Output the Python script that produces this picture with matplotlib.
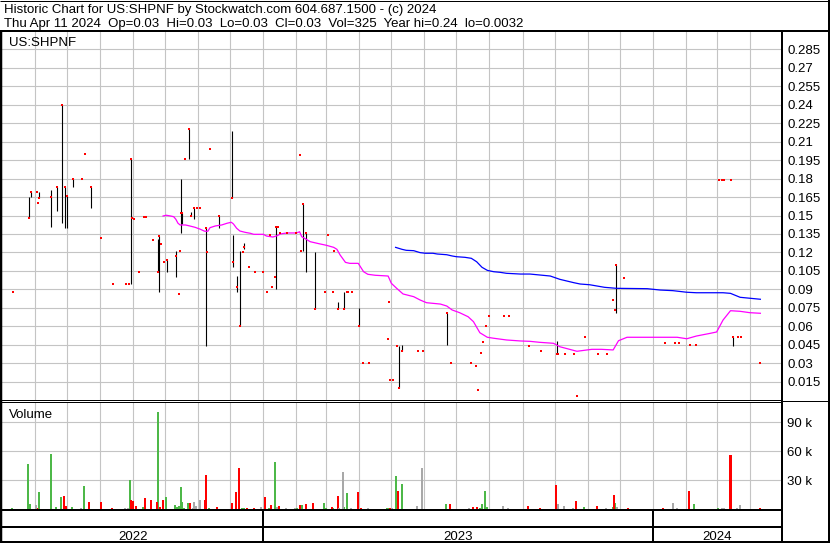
import numpy as np
import matplotlib
matplotlib.use("Agg")
import matplotlib.pyplot as plt
from matplotlib.lines import Line2D

plt.rcParams['font.family'] = ['Liberation Sans', 'DejaVu Sans']

# x values are days counted from this date
START = np.datetime64('2022-05-01')
END = np.datetime64('2024-05-01')

# days with a high/low range: day, high, low, close
bar_day = [25, 27, 35, 46, 52, 56, 59, 61, 67, 83, 121, 146, 147, 155, 163, 168, 169, 175, 177, 180,
           191, 203, 216, 217, 220, 223, 227, 257, 282, 285, 293, 315, 321, 335, 372, 375, 417, 520, 576, 685]
bar_high = [0.165, 0.169, 0.169, 0.171, 0.173, 0.240, 0.173, 0.166, 0.180, 0.173, 0.196, 0.131, 0.133, 0.114,
            0.121, 0.180, 0.152, 0.220, 0.153, 0.156, 0.141, 0.150, 0.219, 0.134, 0.101, 0.121, 0.128, 0.141,
            0.159, 0.136, 0.120, 0.080, 0.088, 0.075, 0.044, 0.045, 0.0705, 0.048, 0.110, 0.0515]
bar_low = [0.148, 0.165, 0.164, 0.141, 0.154, 0.144, 0.140, 0.140, 0.173, 0.156, 0.094, 0.104, 0.088, 0.104,
           0.100, 0.136, 0.143, 0.196, 0.150, 0.147, 0.044, 0.140, 0.164, 0.108, 0.088, 0.060, 0.123, 0.090,
           0.121, 0.104, 0.074, 0.074, 0.074, 0.060, 0.010, 0.040, 0.045, 0.037, 0.0705, 0.044]
bar_close = [0.148, 0.169, 0.164, 0.165, 0.173, 0.240, 0.173, 0.166, 0.180, 0.173, 0.196, 0.104, 0.133, 0.114,
             0.117, 0.152, 0.152, 0.220, 0.150, 0.156, 0.140, 0.150, 0.164, 0.112, 0.092, 0.060, 0.124, 0.141,
             0.159, 0.136, 0.074, 0.074, 0.074, 0.060, 0.010, 0.040, 0.0705, 0.037, 0.110, 0.0515]

# days traded at a single price
flat_day = [10, 33, 34, 75, 78, 93, 104, 116, 119, 122, 124, 128, 133, 135, 142, 149, 152, 166, 167, 172,
            183, 186, 192, 195, 226, 232, 237, 245, 248, 251, 253, 256, 259, 261, 267, 276, 279, 280, 303, 306,
            310, 311, 323, 324, 328, 338, 344, 362, 363, 364, 367, 370, 390, 395, 421, 440, 444, 446, 449, 451,
            454, 457, 471, 475, 494, 505, 521, 528, 536, 539, 547, 559, 567, 573, 575, 583, 622, 631, 635, 645,
            651, 672, 675, 677, 683, 690, 693, 711]
flat_close = [0.088, 0.169, 0.160, 0.180, 0.200, 0.132, 0.094, 0.094, 0.094, 0.148, 0.147, 0.104, 0.149, 0.149,
              0.130, 0.127, 0.112, 0.086, 0.121, 0.196, 0.156, 0.156, 0.120, 0.204, 0.120, 0.108, 0.104, 0.104,
              0.088, 0.134, 0.092, 0.100, 0.141, 0.136, 0.136, 0.136, 0.199, 0.121, 0.088, 0.134, 0.088, 0.121,
              0.088, 0.088, 0.088, 0.030, 0.030, 0.050, 0.080, 0.016, 0.016, 0.044, 0.040, 0.040, 0.030, 0.030,
              0.028, 0.008, 0.038, 0.047, 0.060, 0.068, 0.068, 0.068, 0.044, 0.040, 0.037, 0.037, 0.037, 0.003,
              0.051, 0.037, 0.037, 0.081, 0.073, 0.0995, 0.046, 0.046, 0.046, 0.045, 0.045, 0.179, 0.179, 0.179,
              0.179, 0.0515, 0.0515, 0.030]

# short moving average (magenta)
ma_short_day = [151, 154, 158, 161, 163, 165, 167, 172, 176, 181, 186, 190, 193, 195, 200, 206, 211, 215, 217,
                220, 223, 228, 233, 236, 245, 248, 254, 258, 261, 267, 276, 279, 281, 289, 297, 304, 311, 314,
                317, 322, 326, 334, 339, 343, 350, 362, 365, 370, 376, 386, 392, 398, 411, 417, 422, 429, 437,
                442, 448, 455, 461, 473, 486, 495, 504, 517, 523, 530, 539, 553, 562, 573, 578, 586, 598, 633,
                642, 651, 664, 670, 676, 683, 692, 701, 711]
ma_short = [0.1496, 0.1502, 0.1496, 0.1490, 0.1469, 0.1437, 0.1423, 0.1423, 0.1415, 0.1404, 0.1388, 0.1372,
            0.1372, 0.1401, 0.1415, 0.1423, 0.1437, 0.1445, 0.1431, 0.1396, 0.1374, 0.1363, 0.1355, 0.1347,
            0.1347, 0.1333, 0.1325, 0.1336, 0.1350, 0.1358, 0.1358, 0.1368, 0.1328, 0.1287, 0.1271, 0.1258,
            0.1241, 0.1225, 0.1179, 0.1119, 0.1111, 0.1111, 0.1043, 0.1022, 0.1014, 0.1008, 0.0949, 0.0908,
            0.0862, 0.0840, 0.0813, 0.0791, 0.0780, 0.0764, 0.0732, 0.0710, 0.0677, 0.0637, 0.0547, 0.0510,
            0.0502, 0.0488, 0.0480, 0.0477, 0.0469, 0.0461, 0.0433, 0.0417, 0.0396, 0.0412, 0.0412, 0.0407,
            0.0482, 0.0510, 0.0510, 0.0510, 0.0498, 0.0520, 0.0542, 0.0553, 0.0650, 0.0726, 0.0721, 0.0710,
            0.0705]

# long moving average (blue)
ma_long_day = [369, 375, 379, 386, 392, 397, 404, 408, 417, 422, 426, 434, 440, 445, 450, 455, 461, 467, 473,
               486, 495, 514, 523, 536, 542, 551, 565, 576, 605, 617, 629, 642, 651, 676, 683, 692, 711]
ma_long = [0.1241, 0.1225, 0.1217, 0.1214, 0.1198, 0.1193, 0.1193, 0.1187, 0.1181, 0.1171, 0.1165, 0.1160,
           0.1152, 0.1124, 0.1079, 0.1054, 0.1043, 0.1038, 0.1030, 0.1024, 0.1024, 0.1008, 0.0981, 0.0954,
           0.0943, 0.0937, 0.0916, 0.0908, 0.0905, 0.0894, 0.0889, 0.0876, 0.0872, 0.0872, 0.0867, 0.0835,
           0.0819]

# volume in thousands, split by up / down / unchanged days
up_day = [9, 24, 26, 35, 46, 51, 55, 66, 77, 120, 132, 146, 154, 162, 164, 166, 168, 169, 171, 174, 194, 225,
          227, 250, 256, 277, 281, 302, 304, 310, 321, 323, 361, 363, 369, 375, 416, 448, 450, 453, 455, 546,
          573, 575, 649, 671]
up_vol = [1.3, 46.9, 5.5, 17.9, 57.2, 2.4, 12.7, 2.4, 24.1, 30.3, 2.4, 100.6, 12.7, 4.4, 2.4, 3.4, 23.1, 7.6,
          1.3, 6.5, 1.3, 1.3, 1.3, 1.3, 48.9, 1.3, 4.4, 6.5, 1.3, 1.3, 2.4, 16.9, 1.3, 1.3, 34.5, 26.1, 5.5,
          1.3, 5.5, 18.9, 2.4, 2.4, 2.4, 6.5, 5.5, 1.3]
down_day = [33, 58, 60, 82, 93, 103, 121, 123, 126, 134, 140, 145, 148, 151, 176, 190, 191, 202, 216, 219, 222,
            230, 236, 247, 252, 260, 279, 285, 292, 309, 315, 334, 337, 364, 371, 420, 442, 445, 493, 504, 519,
            538, 558, 574, 587, 620, 644, 683, 711]
down_vol = [1.3, 13.8, 3.4, 7.6, 7.6, 1.3, 9.6, 8.6, 3.4, 11.7, 9.6, 7.6, 2.4, 9.6, 6.5, 9.6, 35.5, 2.4, 6.5,
            17.9, 42.8, 1.3, 1.3, 12.7, 4.4, 3.4, 4.4, 5.5, 6.5, 2.4, 13.8, 17.9, 1.3, 1.3, 18.9, 5.5, 2.4, 2.4,
            3.4, 1.3, 25.1, 8.6, 3.4, 14.8, 1.3, 1.3, 18.9, 56.2, 1.3]
flat_vday = [32, 74, 115, 118, 179, 180, 182, 186, 243, 258, 266, 275, 316, 320, 327, 343, 366, 389, 394, 438,
             470, 474, 521, 527, 535, 566, 577, 629, 633, 675, 677, 689, 692]
flat_vol = [4.4, 1.3, 1.3, 1.3, 1.3, 7.6, 3.4, 9.6, 2.4, 2.4, 1.3, 1.3, 1.3, 38.6, 1.3, 1.3, 1.3, 3.4, 42.8,
            1.3, 3.4, 1.3, 5.5, 3.4, 1.3, 1.3, 2.4, 6.5, 1.3, 1.3, 1.3, 1.3, 4.4]

price_ticks = [0.015, 0.03, 0.045, 0.06, 0.075, 0.09, 0.105, 0.12, 0.135, 0.15, 0.165, 0.18, 0.195, 0.21,
               0.225, 0.24, 0.255, 0.27, 0.285]
vol_ticks = [30, 60, 90]
years = ['2022', '2023', '2024']

title1 = "Historic Chart for US:SHPNF by Stockwatch.com 604.687.1500 - (c) 2024"
title2 = "Thu Apr 11 2024  Op=0.03  Hi=0.03  Lo=0.03  Cl=0.03  Vol=325  Year hi=0.24  lo=0.0032"

W, H = 830, 543
GRID = '#c4c4c4'
FS = 9.5


def fx(x):
    return x / W


def fy(y):
    return 1 - y / H


def line(fig, xs, ys, px=1.0):
    fig.add_artist(Line2D([fx(v) for v in xs], [fy(v) for v in ys], transform=fig.transFigure,
                          color='black', lw=px * 0.72, solid_capstyle='butt'))


fig = plt.figure(figsize=(8.3, 5.43), dpi=100)
fig.patch.set_facecolor('white')

months = np.arange(np.datetime64('2022-06'), np.datetime64('2024-05'), dtype='datetime64[M]')
month_days = (months.astype('datetime64[D]') - START).astype(int)
x_max = int((END - START).astype(int))
year_starts = [(np.datetime64(y + '-01-01') - START).astype(int) for y in ['2023', '2024']]

L, R = 2, 781.7

# price panel
ax = fig.add_axes([fx(L), fy(400), fx(R) - fx(L), (400 - 31) / H])
ax.set_xlim(0, x_max)
ax.set_ylim(0, 0.3)
ax.set_xticks(month_days)
ax.set_xticklabels([])
ax.set_yticks(price_ticks)
ax.set_yticklabels([f"{t:g}" for t in price_ticks])
ax.yaxis.tick_right()
ax.tick_params(length=0, labelsize=FS, pad=4)
ax.grid(color=GRID, lw=0.8)
ax.set_axisbelow(True)
for s in ax.spines.values():
    s.set_visible(False)

ax.vlines(bar_day, bar_low, bar_high, color='black', lw=0.8)
ax.plot(ma_short_day, ma_short, color='#ff00ff', lw=0.9)
ax.plot(ma_long_day, ma_long, color='#0000ff', lw=0.9)
ax.plot(flat_day, flat_close, 's', color='#ff0000', ms=2.0, mew=0)
ax.plot(bar_day, bar_close, 's', color='#ff0000', ms=2.0, mew=0)
fig.text(fx(9.3), fy(46), 'US:SHPNF', fontsize=FS, va='baseline', ha='left')

# volume panel
vtop, vbot = 402, 509.3
vx = fig.add_axes([fx(L), fy(vbot), fx(R) - fx(L), (vbot - vtop) / H])
vx.set_xlim(0, x_max)
vx.set_ylim(0, (vbot - vtop) / 0.9667)
vx.set_xticks(month_days)
vx.set_xticklabels([])
vx.set_yticks(vol_ticks)
vx.set_yticklabels([f"{v} k" for v in vol_ticks])
vx.yaxis.tick_right()
vx.tick_params(length=0, labelsize=FS, pad=4)
vx.grid(color=GRID, lw=0.8)
vx.set_axisbelow(True)
for s in vx.spines.values():
    s.set_visible(False)
vx.bar(up_day, up_vol, width=1.9, color='#4db848', lw=0)
vx.bar(down_day, down_vol, width=1.9, color='#ff0000', lw=0)
vx.bar(flat_vday, flat_vol, width=1.9, color='#a8a8a8', lw=0)
fig.text(fx(9.3), fy(418), 'Volume', fontsize=FS, va='baseline', ha='left')

# header
fig.text(fx(4), fy(13), title1, fontsize=FS, va='baseline', ha='left')
fig.text(fx(4), fy(27), title2, fontsize=FS, va='baseline', ha='left')

# frame lines
line(fig, [0, W], [0.5, 0.5], 1)
line(fig, [0, W], [542, 542], 2)
line(fig, [1, 1], [31, H], 2.5)
line(fig, [829, 829], [0, H], 2)
line(fig, [0, W], [31, 31], 2)
line(fig, [R, R], [31, H], 2)
line(fig, [0, R], [400, 400], 1)
line(fig, [0, R], [402.3, 402.3], 1)
line(fig, [R, W], [401, 401], 1)
line(fig, [0, R], [510, 510], 2)
line(fig, [0, R], [526.8, 526.8], 2)

# year strip
px_per_day = (R - L) / x_max
bounds = [L] + [L + d * px_per_day for d in year_starts] + [R]
for b in bounds[1:-1]:
    line(fig, [b, b], [510, H], 2)
for i, yr in enumerate(years):
    fig.text(fx((bounds[i] + bounds[i + 1]) / 2), fy(540), yr, fontsize=FS, ha='center', va='baseline')

fig.savefig('out.png', dpi=100)
